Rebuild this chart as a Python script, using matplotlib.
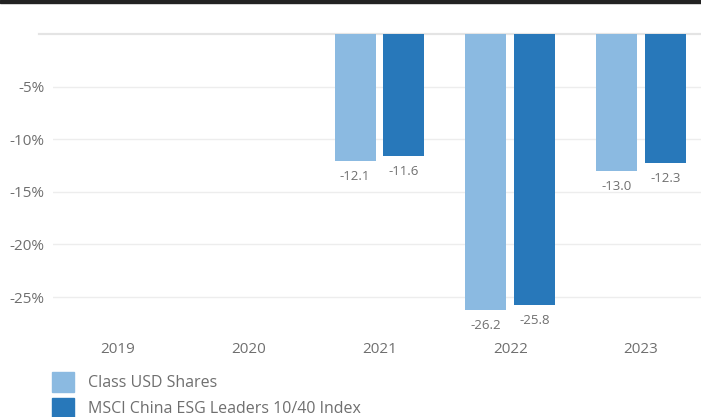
import matplotlib
matplotlib.use("Agg")
import matplotlib.pyplot as plt
from matplotlib.patches import Rectangle, Patch

years = ["2019", "2020", "2021", "2022", "2023"]
class_usd = [None, None, -12.1, -26.2, -13.0]
msci_index = [None, None, -11.6, -25.8, -12.3]
series_names = ["Class USD Shares", "MSCI China ESG Leaders 10/40 Index"]
yticks = [-5, -10, -15, -20, -25]
ytick_labels = ["-5%", "-10%", "-15%", "-20%", "-25%"]

light = "#8BBAE1"
dark = "#2878BA"
text_col = "#6f6f6f"

plt.rcParams['font.family'] = ['Open Sans', 'DejaVu Sans']

W, H = 701, 417
fig = plt.figure(figsize=(W / 100, H / 100), dpi=100)

# top dark band
fig.add_artist(Rectangle((0, 1 - 3 / H), 1, 3 / H, transform=fig.transFigure,
                         color="#222222", zorder=10))

ax_left = 52.5 / W
ax_right = 706.5 / W
ax_top = 1 - 34 / H
ax_h = 294.6 / H
ax = fig.add_axes([ax_left, ax_top - ax_h, ax_right - ax_left, ax_h])

n = len(years)
xs = list(range(n))
bw = 0.313
off = 0.187

for i in xs:
    for val, dx, col in ((class_usd[i], -off, light), (msci_index[i], off, dark)):
        if val is None:
            continue
        ax.bar(i + dx, val, width=bw, color=col, zorder=3)
        ax.annotate(f"{val:.1f}", (i + dx, val), xytext=(0, -6.5),
                    textcoords="offset points", ha="center", va="top",
                    fontsize=9.5, color=text_col)

ax.set_xlim(-0.5, n - 0.5)
ax.set_ylim(-28, 0)
ax.set_xticks(xs)
ax.set_xticklabels(years)
ax.set_yticks(yticks)
ax.set_yticklabels(ytick_labels)
ax.tick_params(axis="both", length=0, labelsize=11, colors=text_col)
ax.tick_params(axis="x", pad=10)
ax.tick_params(axis="y", pad=6)
for s in ax.spines.values():
    s.set_visible(False)
ax.grid(axis="y", color="#ededed", linewidth=1, zorder=0)
ax.set_axisbelow(True)
ax.axhline(0, xmin=-13.5 / 654, xmax=1, color="#e4e4e4", linewidth=1.6,
           zorder=2, clip_on=False)

handles = [Patch(color=light), Patch(color=dark)]
fig.legend(handles, series_names, loc="upper left",
           bbox_to_anchor=(52 / W, 1 - 372 / H), frameon=False,
           fontsize=11.5, handlelength=1.375, handleheight=1.54,
           handletextpad=0.875, labelspacing=0.375, borderpad=0,
           borderaxespad=0, labelcolor=text_col)

fig.savefig("out.png", dpi=100)
